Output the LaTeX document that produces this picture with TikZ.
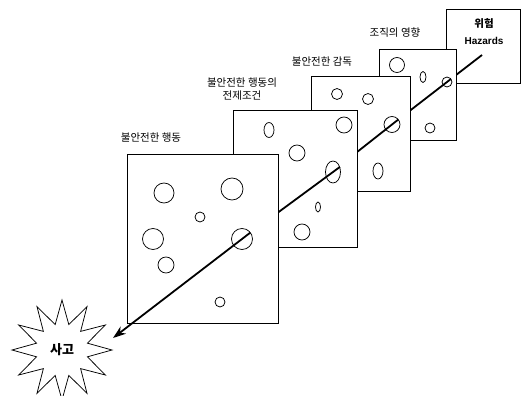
\documentclass[tikz,border=0pt]{standalone}
\usepackage{fontspec}
\setmainfont{Liberation Sans}
\newfontfamily\kr{Noto Sans CJK KR}
\usetikzlibrary{shapes.geometric,arrows.meta,calc}
\begin{document}
\begin{tikzpicture}[x=1pt,y=-1pt,
  panel/.style={draw, line width=0.8pt, fill=white, inner sep=0pt},
  hole/.style={draw, circle, line width=0.75pt, inner sep=0pt, minimum size=#1},
  ohole/.style 2 args={draw, ellipse, line width=0.75pt, inner sep=0pt, minimum width=#1, minimum height=#2},
  ray/.style={line width=1.8pt},
  lbl/.style={font=\kr\fontsize{10.5}{13.5}\selectfont, inner sep=0pt, align=center}]
\fill[white] (0,0) rectangle (523,396);
\useasboundingbox (0,0) rectangle (523,396);

% labels
\node[lbl] (t1) at (151,138) {불안전한 행동};
\node[lbl] (t2) at (242,89) {불안전한 행동의\\전제조건};
\node[lbl] (t3) at (322,62) {불안전한 감독};
\node[lbl] (t4) at (395,33) {조직의 영향};

% panel 5 (hazards)
\node[panel, minimum width=74pt, minimum height=74pt] (s5) at (483.7,46.3) {};
\node[inner sep=0pt, font=\kr\bfseries\fontsize{10.5}{12}\selectfont] (hz1) at (484,24) {위험};
\node[inner sep=0pt, font=\bfseries\fontsize{10}{12}\selectfont] (hz2) at (484,41) {Hazards};
\coordinate (start) at (482,55);
\coordinate (h4) at (447,82);
\draw[ray] (start) -- (h4);

% panel 4
\node[panel, minimum width=77.7pt, minimum height=91pt] (s4) at (417.8,94.5) {};
\node[hole=15pt] (c41) at (397,65) {};
\node[ohole={6pt}{11pt}] (c42) at (423,77) {};
\node[hole=10pt] (c43) at (447,82) {};
\node[hole=10pt] (c44) at (430,128) {};
\coordinate (h3) at (392,124.5);
\draw[ray] ($(c43.center)!-5pt!(h3)$) -- (h3);

% panel 3
\node[panel, minimum width=98.5pt, minimum height=115.7pt] (s3) at (360.7,133.8) {};
\node[hole=11pt] (c31) at (337,94) {};
\node[hole=11pt] (c32) at (368,99) {};
\node[hole=16pt] (c33) at (392,124.5) {};
\node[ohole={10pt}{16pt}] (c34) at (378,171) {};
\coordinate (h2) at (333,171);
\draw[ray] ($(c33.center)!-8pt!(h2)$) -- (h2);

% panel 2
\node[panel, minimum width=124.5pt, minimum height=136.8pt] (s2) at (295.2,178.9) {};
\node[ohole={10pt}{15pt}] (c21) at (269,130) {};
\node[hole=16pt] (c22) at (344,125) {};
\node[hole=16pt] (c23) at (297,153) {};
\node[ohole={15pt}{22pt}] (c24) at (333,172) {};
\node[ohole={5pt}{10pt}] (c25) at (318,207) {};
\node[hole=16pt] (c26) at (302,232) {};
\coordinate (h1) at (242,239);
\draw[ray] ($(c24.center)!-8.5pt!(h1)$) -- (h1);

% panel 1
\node[panel, minimum width=151pt, minimum height=169pt] (s1) at (202.5,238.5) {};
\node[hole=20pt] (c11) at (164,193) {};
\node[hole=22pt] (c12) at (232,189) {};
\node[hole=10pt] (c13) at (200,217) {};
\node[hole=21pt] (c14) at (153,239) {};
\node[hole=21pt] (c15) at (242,239) {};
\node[hole=16pt] (c16) at (166,265) {};
\node[hole=10pt] (c17) at (220,302) {};

% accident star
\node[draw, star, star points=12, star point ratio=1.9, minimum size=100pt, inner sep=0pt, line width=0.75pt, font=\kr\bfseries\fontsize{13}{15}\selectfont] (acc) at (62,350) {사고};
\coordinate (tip) at (113,338);
\draw[ray, -{Stealth[length=13pt,width=9pt]}] ($(c15.center)!-10.5pt!(tip)$) -- (tip);
\end{tikzpicture}
\end{document}
